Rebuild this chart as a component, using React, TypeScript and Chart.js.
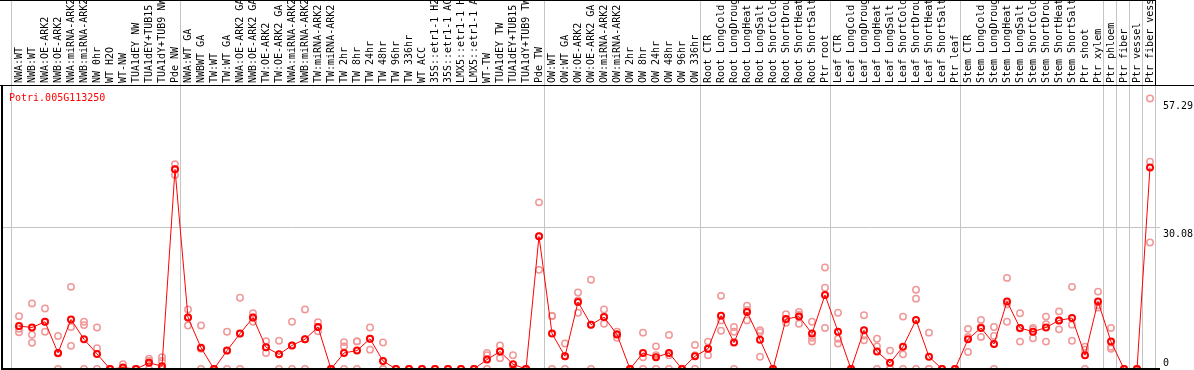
import { useEffect, useRef } from "react";
import { Chart, registerables } from "chart.js";

Chart.register(...registerables);

const categories = [
  "NWA:WT", "NWB:WT", "NWA:OE-ARK2", "NWB:OE-ARK2", "NWA:miRNA-ARK2", "NWB:miRNA-ARK2",
  "NW 0hr", "WT H2O", "WT-NW", "TUA1dEY NW", "TUA1dEY+TUB15 NW", "TUA1dY+TUB9 NW", "Pde NW",
  "NWA:WT GA", "NWBWT GA", "TW:WT", "TW:WT GA", "NWA:OE-ARK2 GA", "NWB:OE-ARK2 GA",
  "TW:OE-ARK2", "TW:OE-ARK2 GA", "NWA:miRNA-ARK2", "NWB:miRNA-ARK2", "TW:miRNA-ARK2",
  "TW:miRNA-ARK2", "TW 2hr", "TW 8hr", "TW 24hr", "TW 48hr", "TW 96hr", "TW 336hr",
  "WT ACC", "35S::etr1-1 H2O", "35S::etr1-1 ACC", "LMX5::etr1-1 H2O", "LMX5::etr1-1 ACC",
  "WT-TW", "TUA1dEY TW", "TUA1dEY+TUB15 TW", "TUA1dY+TUB9 TW", "Pde TW",
  "OW:WT", "OW:WT GA", "OW:OE-ARK2", "OW:OE-ARK2 GA", "OW:miRNA-ARK2", "OW:miRNA-ARK2",
  "OW 2hr", "OW 8hr", "OW 24hr", "OW 48hr", "OW 96hr", "OW 336hr",
  "Root CTR", "Root LongCold", "Root LongDrought", "Root LongHeat", "Root LongSalt",
  "Root ShortCold", "Root ShortDrought", "Root ShortHeat", "Root ShortSalt", "Ptr root",
  "Leaf CTR", "Leaf LongCold", "Leaf LongDrought", "Leaf LongHeat", "Leaf LongSalt",
  "Leaf ShortCold", "Leaf ShortDrought", "Leaf ShortHeat", "Leaf ShortSalt", "Ptr leaf",
  "Stem CTR", "Stem LongCold", "Stem LongDrought", "Stem LongHeat", "Stem LongSalt",
  "Stem ShortCold", "Stem ShortDrought", "Stem ShortHeat", "Stem ShortSalt", "Ptr shoot",
  "Ptr xylem", "Ptr phloem", "Ptr fiber", "Ptr vessel", "Ptr fiber vessel",
];

const meanValues = [
  9.1, 8.8, 10.0, 3.4, 10.5, 6.3, 3.2, 0, 0.3, 0, 1.3, 0.6, 42.3,
  10.9, 4.5, 0, 3.9, 7.5, 10.9, 4.6, 3.1, 5.0, 6.3, 8.9, 0, 3.4, 3.9, 6.4, 1.7, 0, 0,
  0, 0, 0, 0, 0, 2.0, 3.7, 1.0, 0, 28.1,
  7.5, 2.7, 14.2, 9.4, 11.0, 7.3, 0, 3.4, 2.5, 3.4, 0, 2.7,
  4.3, 11.3, 5.6, 12.1, 6.2, 0, 10.6, 11.1, 7.5, 15.7,
  7.9, 0, 8.2, 3.7, 1.3, 4.7, 10.4, 2.6, 0, 0,
  6.3, 8.7, 5.3, 14.3, 8.7, 7.9, 8.8, 10.3, 10.8, 2.9,
  14.3, 5.8, 0, 0, 42.7,
];

const replicateValues = [
  [11.2, 8.5, 7.8], [13.9, 7.25, 5.55], [12.8, 10.0, 7.9], [7.0, 3.3, 0], [17.4, 8.9, 4.9],
  [10.0, 9.3, 0], [8.8, 4.4, 0], [0, 0, 0], [1.0, 0, 0], [0, 0, 0], [2.2, 1.7, 0],
  [2.5, 1.7, 0], [43.4, 42.3, 41.1],
  [12.6, 10.9, 9.2], [9.2, 4.3, 0], [0, 0, 0], [7.9, 3.9, 0], [15.1, 7.5, 0],
  [11.8, 10.9, 10.0], [5.9, 4.6, 3.4], [6.0, 3.1, 0], [10.0, 5.0, 0], [12.6, 6.3, 0],
  [9.9, 8.9, 8.0], [0, 0, 0], [5.7, 4.8, 0], [5.8, 5.9, 0], [8.8, 6.4, 4.1], [5.6, 0, 0],
  [0, 0, 0], [0, 0, 0],
  [0, 0, 0], [0, 0, 0], [0, 0, 0], [0, 0, 0], [0, 0, 0], [3.4, 2.9, 0], [5.0, 3.7, 2.3],
  [2.9, 0, 0], [0, 0, 0], [35.3, 28.1, 21.0],
  [11.3, 11.2, 0], [5.4, 2.7, 0], [16.2, 14.5, 11.9], [18.9, 9.4, 0], [12.6, 11.0, 9.6],
  [7.9, 7.4, 6.6], [0, 0, 0], [7.7, 2.5, 0], [4.8, 2.9, 0], [7.2, 2.9, 0], [0, 0, 0],
  [5.1, 2.9, 0],
  [5.8, 4.3, 2.9], [15.5, 10.3, 8.1], [8.9, 7.9, 0], [13.4, 12.5, 10.3], [8.2, 7.8, 2.6],
  [0, 0, 0], [11.6, 10.5, 9.8], [12.1, 11.5, 9.6], [10.0, 6.6, 5.8], [21.5, 17.2, 8.7],
  [11.9, 6.4, 5.4], [0, 0, 0], [11.4, 7.1, 6.1], [6.4, 4.8, 0], [3.9, 0, 0], [11.1, 3.1, 0],
  [16.8, 14.9, 0], [7.7, 0, 0], [0, 0, 0], [0, 0, 0],
  [8.5, 6.8, 3.6], [10.4, 8.9, 6.8], [8.9, 7.0, 0], [19.3, 13.7, 10.0], [11.8, 8.6, 5.8],
  [8.7, 8.4, 6.5], [11.1, 9.5, 5.8], [12.2, 10.3, 8.4], [17.4, 9.4, 6.0], [4.7, 4.1, 0],
  [16.4, 13.5, 13.0], [8.7, 4.7, 4.3], [0, 0, 0], [0, 0, 0], [57.29, 43.9, 26.8],
];

const yTickValues = [0, 30.08, 57.29];
const yAxisMax = 60.16;
// index of the last category in each group (-1 = before the first category)
const groupEnds = [-1, 12, 40, 52, 62, 72, 83, 84, 85, 86, 87];
const geneName = "Potri.005G113250";

const FONT = '"DejaVu Sans Mono", monospace';
const X_MIN = -17 / 13;
const X_MAX = X_MIN + 1158 / 13;

const zeroPad = (s: any) => {
  s.paddingLeft = 0;
  s.paddingRight = 0;
  s.paddingTop = 0;
  s.paddingBottom = 0;
};

export default function App() {
  const canvasRef = useRef<HTMLCanvasElement | null>(null);

  useEffect(() => {
    const prevMargin = document.body.style.margin;
    document.body.style.margin = "0";
    const canvas = canvasRef.current;
    if (!canvas) return;

    const framePlugin = {
      id: "frame",
      afterDraw(chart: any) {
        const ctx = chart.ctx as CanvasRenderingContext2D;
        const { left, right, top, bottom } = chart.chartArea;
        const xg = chart.scales.xg;
        const y = chart.scales.y;
        const boxRight = Math.round(xg.getPixelForValue(groupEnds[groupEnds.length - 1] + 0.4));
        ctx.save();
        ctx.fillStyle = "#000";
        ctx.fillRect(0, 0, boxRight + 1, 1);
        ctx.fillRect(boxRight, 0, 1, top);
        ctx.fillRect(0, top, chart.width, 1);
        ctx.fillRect(left - 1, top, 2, bottom - top);
        ctx.fillRect(left - 1, bottom - 1, right - left + 1, 2);

        ctx.font = `10px ${FONT}`;
        ctx.textAlign = "left";
        ctx.textBaseline = "alphabetic";
        ctx.fillStyle = "#ff0000";
        ctx.fillText(geneName, left + 7, top + 16);

        ctx.fillStyle = "#000";
        for (const v of yTickValues) {
          const py = y.getPixelForValue(v);
          const base = v === 0 ? py - 3 : py + 10;
          ctx.fillText(String(v), right + 3, base);
        }
        ctx.restore();
      },
    };

    const chart = new Chart(canvas, {
      type: "line",
      data: {
        datasets: [
          {
            label: "mean",
            data: meanValues.map((v, i) => ({ x: i, y: v })),
            borderColor: "#ff0000",
            borderWidth: 1,
            pointRadius: 3,
            pointBorderWidth: 2,
            pointBorderColor: "#ff0000",
            pointBackgroundColor: "rgba(0,0,0,0)",
            fill: false,
            tension: 0,
            order: 0,
            clip: false,
            xAxisID: "x",
            yAxisID: "y",
          } as any,
          {
            label: "replicates",
            data: replicateValues.flatMap((arr, i) => arr.map((v) => ({ x: i, y: v }))),
            showLine: false,
            pointRadius: 3.2,
            pointBorderWidth: 1.5,
            pointBorderColor: "#f09898",
            pointBackgroundColor: "rgba(0,0,0,0)",
            order: 1,
            clip: false,
            xAxisID: "x",
            yAxisID: "y",
          } as any,
        ],
      },
      options: {
        animation: false,
        responsive: false,
        maintainAspectRatio: false,
        events: [],
        layout: { autoPadding: false, padding: { left: 2, right: 0, top: 0, bottom: 1 } },
        plugins: {
          legend: { display: false },
          tooltip: { enabled: false },
          title: { display: false },
        },
        scales: {
          x: {
            type: "linear",
            position: "top",
            min: X_MIN,
            max: X_MAX,
            weight: 1,
            afterBuildTicks: (s: any) => {
              s.ticks = categories.map((_, i) => ({ value: i }));
            },
            afterFit: (s: any) => {
              s.height = 85;
              zeroPad(s);
            },
            grid: { display: false, drawTicks: false },
            border: { display: false },
            ticks: {
              autoSkip: false,
              minRotation: 90,
              maxRotation: 90,
              padding: 2,
              labelOffset: 12,
              color: "#000",
              font: { family: FONT, size: 10 },
              callback: (v: any) => categories[Math.round(Number(v))] ?? "",
            },
          },
          xg: {
            type: "linear",
            position: "top",
            min: X_MIN,
            max: X_MAX,
            weight: 0,
            afterBuildTicks: (s: any) => {
              s.ticks = groupEnds.map((g) => ({ value: g + 0.4 }));
            },
            afterFit: (s: any) => {
              s.height = 0;
              zeroPad(s);
            },
            ticks: { display: false },
            grid: {
              color: "#c4c4c4",
              lineWidth: 1,
              drawTicks: true,
              tickLength: 85,
              drawOnChartArea: true,
            },
            border: { display: false },
          },
          y: {
            type: "linear",
            position: "right",
            min: 0,
            max: yAxisMax,
            afterBuildTicks: (s: any) => {
              s.ticks = yTickValues.map((v) => ({ value: v }));
            },
            afterFit: (s: any) => {
              s.width = 34;
              zeroPad(s);
            },
            ticks: { display: false },
            grid: {
              drawTicks: false,
              color: (c: any) =>
                c.tick && c.tick.value === yTickValues[1] ? "#c4c4c4" : "rgba(0,0,0,0)",
            },
            border: { display: false },
          },
        } as any,
      },
      plugins: [framePlugin],
    });

    return () => {
      chart.destroy();
      document.body.style.margin = prevMargin;
    };
  }, []);

  return (
    <div style={{ position: "absolute", left: 0, top: 0, width: 1194, height: 370 }}>
      <canvas ref={canvasRef} width={1194} height={370} style={{ display: "block", width: 1194, height: 370 }} />
    </div>
  );
}
